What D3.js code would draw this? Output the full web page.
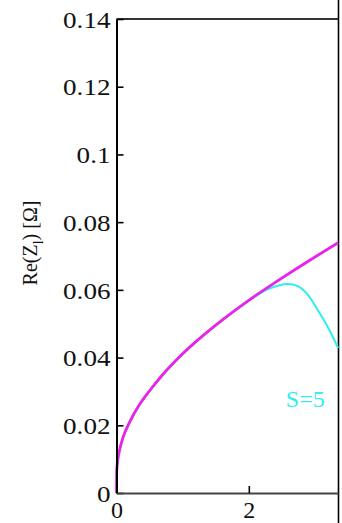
<!DOCTYPE html>
<html>
<head>
<meta charset="utf-8">
<script src="https://cdn.jsdelivr.net/npm/d3@7"></script>
<style>
html,body{margin:0;padding:0;background:#fff;}
svg{display:block;}
text{font-family:"Liberation Serif","Times New Roman",serif;}
</style>
</head>
<body>
<svg id="chart" width="342" height="523"></svg>
<script>
// ---- data ----
const magentaX = [0, 0.003, 0.02, 0.05, 0.1, 0.2, 0.35, 0.5, 0.7, 0.93, 1.2, 1.5, 1.8, 2.1, 2.4, 2.7, 3.0, 3.35];
const magentaY = [0, 0.0065, 0.0098, 0.013, 0.0165, 0.021, 0.0262, 0.0302, 0.035, 0.0398, 0.0447, 0.0496, 0.0541, 0.0583, 0.0622, 0.066, 0.0697, 0.0739];
const cyanX = [0, 0.003, 0.02, 0.05, 0.1, 0.2, 0.35, 0.5, 0.7, 0.93, 1.2, 1.5, 1.8, 2.1, 2.3, 2.45, 2.59, 2.74, 2.89, 3.04, 3.19, 3.35];
const cyanY = [0, 0.0064, 0.0097, 0.0129, 0.0164, 0.0209, 0.0261, 0.0301, 0.0349, 0.0397, 0.0446, 0.0495, 0.054, 0.0581, 0.0603, 0.0613, 0.0617, 0.0611, 0.0586, 0.0541, 0.0492, 0.0428];
const yTicks = [0, 0.02, 0.04, 0.06, 0.08, 0.1, 0.12, 0.14];
const yTickLabels = ["0", "0.02", "0.04", "0.06", "0.08", "0.1", "0.12", "0.14"];
const xTicks = [0, 2];
const xTickLabels = ["0", "2"];
const seriesLabel = "S=5";
const labelPos = [2.56, 0.0254];

// ---- layout ----
const mLeft = 116.5, mRight = 338, mTop = 19, mBottom = 493;
const sx = 1.13; // horizontal stretch of the glyphs in the reference
const svg = d3.select("#chart");
const x = d3.scaleLinear().domain([0, 3.348]).range([mLeft, mRight]);
const y = d3.scaleLinear().domain([0, 0.14]).range([mBottom, mTop]);

// frame: top and right
svg.append("line").attr("x1", mLeft).attr("x2", mRight).attr("y1", mTop).attr("y2", mTop)
  .attr("stroke", "#333").attr("stroke-width", 2.2);
svg.append("line").attr("x1", 338.5).attr("x2", 338.5).attr("y1", 0).attr("y2", 523)
  .attr("stroke", "#000").attr("stroke-width", 1.6);

// curves
const lineC = d3.line().x(d => x(d[0])).y(d => y(d[1])).curve(d3.curveMonotoneX);
svg.append("path").attr("d", lineC(cyanX.map((d, i) => [d, cyanY[i]]))).attr("fill", "none")
  .attr("stroke", "#2eeef2").attr("stroke-width", 2);
svg.append("path").attr("d", lineC(magentaX.map((d, i) => [d, magentaY[i]]))).attr("fill", "none")
  .attr("stroke", "#e824e8").attr("stroke-width", 2.8);

// y axis
const yAxis = d3.axisLeft(y).tickValues(yTicks).tickSizeInner(-7).tickSizeOuter(0)
  .tickPadding(6).tickFormat((d, i) => yTickLabels[i]);
const gy = svg.append("g").attr("transform", `translate(${mLeft},0)`).call(yAxis);
gy.select(".domain").attr("stroke", "#000").attr("stroke-width", 2);
gy.selectAll(".tick line").attr("stroke", "#000").attr("stroke-width", 1.6);
gy.selectAll(".tick text").attr("font-size", 24).attr("fill", "#111")
  .attr("x", -6 / sx).attr("transform", `scale(${sx},1)`).attr("dy", "0.34em");

// x axis
const xAxis = d3.axisBottom(x).tickValues(xTicks).tickSizeInner(-7).tickSizeOuter(0)
  .tickPadding(13).tickFormat((d, i) => xTickLabels[i]);
const gx = svg.append("g").attr("transform", `translate(0,${mBottom})`).call(xAxis);
gx.select(".domain").attr("stroke", "#444").attr("stroke-width", 2.2);
gx.selectAll(".tick line").attr("stroke", "#000").attr("stroke-width", 1.6);
gx.selectAll(".tick text").attr("font-size", 24).attr("fill", "#111").attr("dy", "0.5em");

// y label
const yl = svg.append("text").attr("transform", "translate(37,243) rotate(-90)")
  .attr("text-anchor", "middle").attr("font-size", 20).attr("fill", "#111");
yl.append("tspan").text("Re(Z");
yl.append("tspan").attr("font-size", 14).attr("dy", 6).text("l");
yl.append("tspan").attr("dy", -6).text(") [Ω]");

// series label
svg.append("text").attr("x", x(labelPos[0])).attr("y", y(labelPos[1]))
  .attr("font-size", 24).attr("fill", "#2eeef2").text(seriesLabel);
</script>
</body>
</html>
